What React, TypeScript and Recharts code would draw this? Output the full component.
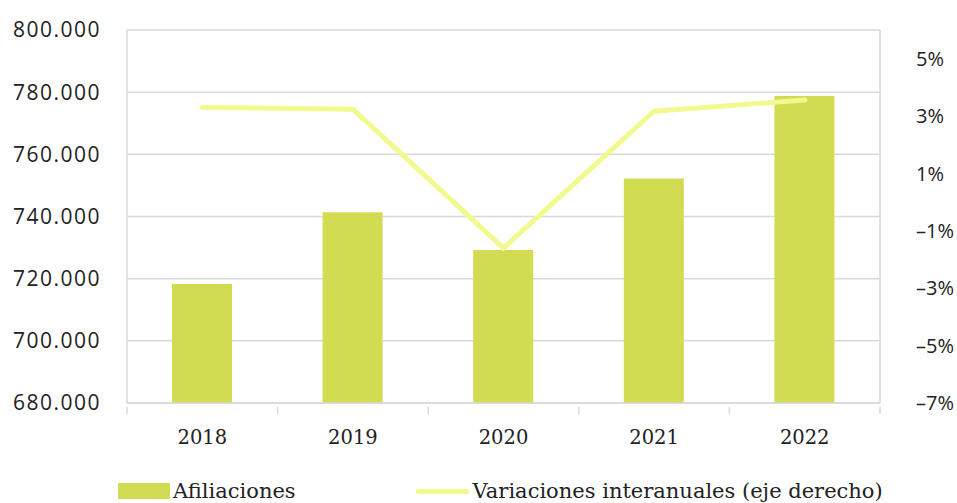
import { ComposedChart, Bar, Line, XAxis, YAxis, CartesianGrid, Legend } from 'recharts';

const years = ['2018', '2019', '2020', '2021', '2022'];
const afiliaciones = [718300, 741400, 729200, 752200, 778800];
const variaciones = [3.3, 3.24, -1.6, 3.17, 3.56];
const leftTicks = [680000, 700000, 720000, 740000, 760000, 780000, 800000];
const rightTicks = [-7, -5, -3, -1, 1, 3, 5];

const rows = years.map((y, i) => ({ year: y, afiliaciones: afiliaciones[i], variacion: variaciones[i] }));

const BAR = '#D2DC52';
const LINE = '#F2F98E';
const GRID = '#D9D9D9';
const serif = '"DejaVu Serif", serif';
const sans = '"Open Sans", sans-serif';

const fmtThousands = (v: number) => v.toLocaleString('de-DE');

// year label plus the small tick marks on the category borders
function YearTick(props: any) {
  const { x, y, payload, index, visibleTicksCount } = props;
  const half = payload && payload.offset ? payload.offset : 75.3;
  const last = index === (visibleTicksCount ?? years.length) - 1;
  return (
    <g>
      <line x1={x - half} x2={x - half} y1={y - 2} y2={y + 5} stroke={GRID} strokeWidth={1.5} />
      {last && <line x1={x + half} x2={x + half} y1={y - 2} y2={y + 5} stroke={GRID} strokeWidth={1.5} />}
      <text x={x} y={y + 35} textAnchor="middle" fontFamily={serif} fontSize={19.5} fill="#222">{payload.value}</text>
    </g>
  );
}

function LegendBox() {
  return (
    <div style={{ display: 'flex', alignItems: 'center', fontFamily: serif, fontSize: 21, color: '#222', paddingLeft: 118, paddingTop: 26 }}>
      <span style={{ display: 'inline-block', width: 52, height: 16, background: BAR, marginRight: 3 }} />
      <span>Afiliaciones</span>
      <span style={{ display: 'inline-block', width: 53, height: 5, borderRadius: 3, background: LINE, marginLeft: 120, marginRight: 4 }} />
      <span>Variaciones interanuales (eje derecho)</span>
    </div>
  );
}

export default function App() {
  return (
    <div style={{ position: 'absolute', left: 0, top: 0, background: '#fff' }}>
      <ComposedChart width={957} height={503} data={rows} margin={{ top: 30, right: 0, left: 0, bottom: 0 }} barSize={60}>
        <CartesianGrid yAxisId="left" vertical={false} stroke={GRID} strokeWidth={1.5} />
        <XAxis dataKey="year" height={50} axisLine={{ stroke: GRID, strokeWidth: 1.5 }} tickLine={false}
          tick={<YearTick />} tickMargin={0} interval={0} />
        <YAxis yAxisId="left" domain={[680000, 800000]} ticks={leftTicks} width={127} tickFormatter={fmtThousands}
          axisLine={{ stroke: GRID, strokeWidth: 1.5 }} tickLine={false} tickMargin={20}
          tick={{ fontFamily: sans, fontSize: 21, fill: '#222', letterSpacing: 1.5 }} />
        <YAxis yAxisId="right" orientation="right" domain={[-7, 6]} ticks={rightTicks} width={77}
          tickFormatter={(v: number) => (v < 0 ? `–${Math.abs(v)}%` : `${v}%`)}
          axisLine={{ stroke: GRID, strokeWidth: 1.5 }} tickLine={false} tickMargin={30}
          tick={{ fontFamily: sans, fontSize: 20, fill: '#222' }} />
        <Legend verticalAlign="bottom" height={50} content={() => <LegendBox />} />
        <Bar yAxisId="left" dataKey="afiliaciones" fill={BAR} isAnimationActive={false} />
        <Line yAxisId="right" dataKey="variacion" stroke={LINE} strokeWidth={5} strokeLinecap="round" dot={false}
          activeDot={false} isAnimationActive={false} />
      </ComposedChart>
    </div>
  );
}
